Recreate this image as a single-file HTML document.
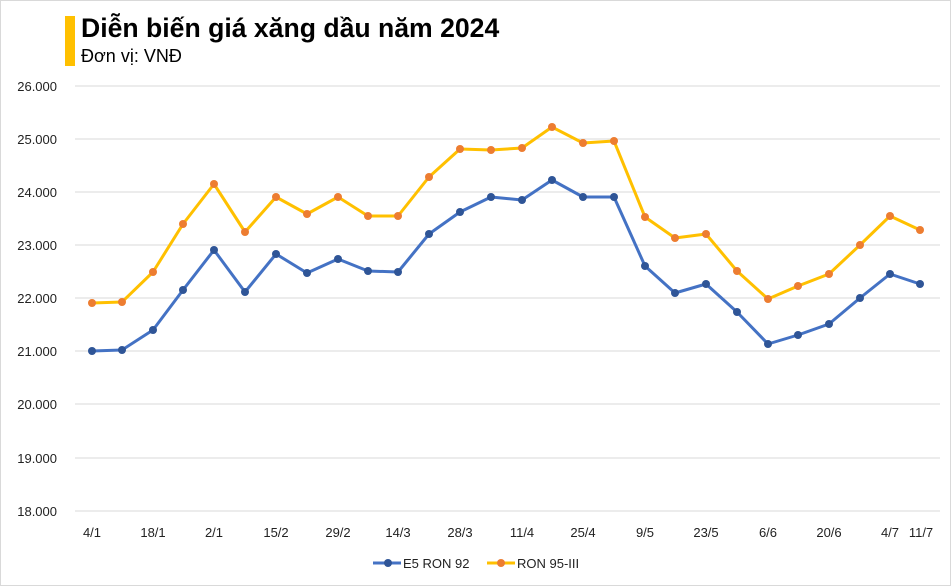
<!DOCTYPE html>
<html><head><meta charset="utf-8"><style>
body{margin:0;background:#fff}
svg{display:block;font-family:"Liberation Sans","Noto Sans CJK SC",sans-serif}
</style></head><body>
<svg width="951" height="586" viewBox="0 0 951 586">
<rect x="0.5" y="0.5" width="950" height="585" fill="#fff" stroke="#d9d9d9"/>
<rect x="65" y="16" width="10" height="50" fill="#FFC000"/>
<text x="81" y="37" font-size="26.6" font-weight="bold" fill="#000">Diễn biến giá xăng dầu năm 2024</text>
<text x="81" y="62" font-size="18" fill="#000">Đơn vị: VNĐ</text>
<g stroke="#d9d9d9" stroke-width="1">
<line x1="75" x2="940" y1="86" y2="86"/><line x1="75" x2="940" y1="139" y2="139"/>
<line x1="75" x2="940" y1="192" y2="192"/><line x1="75" x2="940" y1="245" y2="245"/>
<line x1="75" x2="940" y1="298" y2="298"/><line x1="75" x2="940" y1="351" y2="351"/>
<line x1="75" x2="940" y1="404" y2="404"/><line x1="75" x2="940" y1="458" y2="458"/>
<line x1="75" x2="940" y1="511" y2="511"/>
</g>
<g font-size="13" fill="#222" text-anchor="end">
<text x="57" y="91">26.000</text><text x="57" y="144">25.000</text><text x="57" y="197">24.000</text>
<text x="57" y="250">23.000</text><text x="57" y="303">22.000</text><text x="57" y="356">21.000</text>
<text x="57" y="409">20.000</text><text x="57" y="463">19.000</text><text x="57" y="516">18.000</text>
</g>
<g font-size="13" fill="#222" text-anchor="middle">
<text x="92" y="537">4/1</text><text x="153" y="537">18/1</text><text x="214" y="537">2/1</text>
<text x="276" y="537">15/2</text><text x="338" y="537">29/2</text><text x="398" y="537">14/3</text>
<text x="460" y="537">28/3</text><text x="522" y="537">11/4</text><text x="583" y="537">25/4</text>
<text x="645" y="537">9/5</text><text x="706" y="537">23/5</text><text x="768" y="537">6/6</text>
<text x="829" y="537">20/6</text><text x="890" y="537">4/7</text><text x="921" y="537">11/7</text>
</g>
<polyline fill="none" stroke="#4472C4" stroke-width="3" stroke-linejoin="round" points="92,351 122,350 153,330 183,290 214,250 245,292 276,254 307,273 338,259 368,271 398,272 429,234 460,212 491,197 522,200 552,180 583,197 614,197 645,266 675,293 706,284 737,312 768,344 798,335 829,324 860,298 890,274 920,284"/>
<g fill="#2F5597">
<circle cx="92" cy="351" r="4"/><circle cx="122" cy="350" r="4"/><circle cx="153" cy="330" r="4"/><circle cx="183" cy="290" r="4"/><circle cx="214" cy="250" r="4"/><circle cx="245" cy="292" r="4"/><circle cx="276" cy="254" r="4"/><circle cx="307" cy="273" r="4"/><circle cx="338" cy="259" r="4"/><circle cx="368" cy="271" r="4"/><circle cx="398" cy="272" r="4"/><circle cx="429" cy="234" r="4"/><circle cx="460" cy="212" r="4"/><circle cx="491" cy="197" r="4"/><circle cx="522" cy="200" r="4"/><circle cx="552" cy="180" r="4"/><circle cx="583" cy="197" r="4"/><circle cx="614" cy="197" r="4"/><circle cx="645" cy="266" r="4"/><circle cx="675" cy="293" r="4"/><circle cx="706" cy="284" r="4"/><circle cx="737" cy="312" r="4"/><circle cx="768" cy="344" r="4"/><circle cx="798" cy="335" r="4"/><circle cx="829" cy="324" r="4"/><circle cx="860" cy="298" r="4"/><circle cx="890" cy="274" r="4"/><circle cx="920" cy="284" r="4"/>
</g>
<polyline fill="none" stroke="#FFC000" stroke-width="3" stroke-linejoin="round" points="92,303 122,302 153,272 183,224 214,184 245,232 276,197 307,214 338,197 368,216 398,216 429,177 460,149 491,150 522,148 552,127 583,143 614,141 645,217 675,238 706,234 737,271 768,299 798,286 829,274 860,245 890,216 920,230"/>
<g fill="#ED7D31">
<circle cx="92" cy="303" r="4"/><circle cx="122" cy="302" r="4"/><circle cx="153" cy="272" r="4"/><circle cx="183" cy="224" r="4"/><circle cx="214" cy="184" r="4"/><circle cx="245" cy="232" r="4"/><circle cx="276" cy="197" r="4"/><circle cx="307" cy="214" r="4"/><circle cx="338" cy="197" r="4"/><circle cx="368" cy="216" r="4"/><circle cx="398" cy="216" r="4"/><circle cx="429" cy="177" r="4"/><circle cx="460" cy="149" r="4"/><circle cx="491" cy="150" r="4"/><circle cx="522" cy="148" r="4"/><circle cx="552" cy="127" r="4"/><circle cx="583" cy="143" r="4"/><circle cx="614" cy="141" r="4"/><circle cx="645" cy="217" r="4"/><circle cx="675" cy="238" r="4"/><circle cx="706" cy="234" r="4"/><circle cx="737" cy="271" r="4"/><circle cx="768" cy="299" r="4"/><circle cx="798" cy="286" r="4"/><circle cx="829" cy="274" r="4"/><circle cx="860" cy="245" r="4"/><circle cx="890" cy="216" r="4"/><circle cx="920" cy="230" r="4"/>
</g>
<line x1="373" x2="401" y1="563" y2="563" stroke="#4472C4" stroke-width="3"/>
<circle cx="388" cy="563" r="4" fill="#2F5597"/>
<text x="403" y="568" font-size="13" fill="#222">E5 RON 92</text>
<line x1="487" x2="515" y1="563" y2="563" stroke="#FFC000" stroke-width="3"/>
<circle cx="501" cy="563" r="4" fill="#ED7D31"/>
<text x="517" y="568" font-size="13" fill="#222">RON 95-III</text>
</svg>
</body></html>
